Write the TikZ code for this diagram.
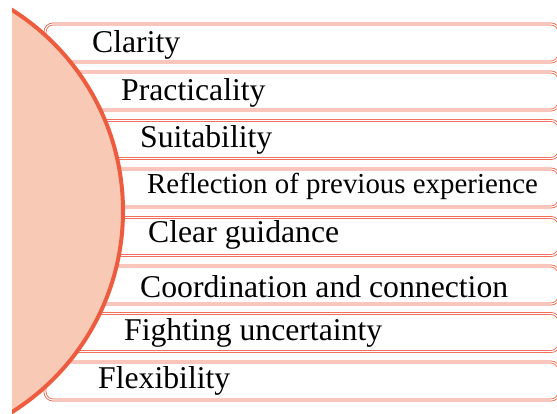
\documentclass[tikz,border=0pt]{standalone}
\usepackage{fontspec}
\setmainfont{Liberation Serif}
\definecolor{circfill}{RGB}{248,202,182}
\definecolor{circline}{RGB}{238,92,64}
\definecolor{boxline}{RGB}{240,92,68}
\tikzset{
  listbox/.style={draw=boxline, line width=0.8pt, double=white, double distance=1.2pt,
    rounded corners=8pt, minimum width=514pt, minimum height=38pt, inner sep=0pt, fill=white},
  bigcirc/.style={circle, draw=circline, line width=4pt, fill=circfill, minimum size=475pt, inner sep=0pt},
  label/.style={anchor=base west, inner sep=0pt, font=\fontsize{31.7}{36}\selectfont, text=black},
  smalllabel/.style={label, font=\fontsize{28.9}{33}\selectfont}
}
\begin{document}
\begin{tikzpicture}[x=1pt,y=-1pt]
\useasboundingbox (0,0) rectangle (557,414);
\begin{scope}
\clip (12,0) rectangle (557,414);
\node[listbox] (b1) at (302,43) {};
\node[listbox] (b2) at (302,91) {};
\node[listbox] (b3) at (302,139.5) {};
\node[listbox] (b4) at (302,188) {};
\node[listbox] (b5) at (302,236.5) {};
\node[listbox] (b6) at (302,285) {};
\node[listbox] (b7) at (302,332.5) {};
\node[listbox] (b8) at (302,381) {};
\node[bigcirc] (c) at (-114.5,211) {};
\end{scope}
\node[label] (t1) at (92,53) {Clarity};
\node[label] (t2) at (121,101) {Practicality};
\node[label] (t3) at (140,148) {Suitability};
\node[smalllabel] (t4) at (147,194) {Reflection of previous experience};
\node[label] (t5) at (148,243) {Clear guidance};
\node[label] (t6) at (140,298) {Coordination and connection};
\node[label] (t7) at (124,340) {Fighting uncertainty};
\node[label] (t8) at (98,388) {Flexibility};
\end{tikzpicture}
\end{document}
